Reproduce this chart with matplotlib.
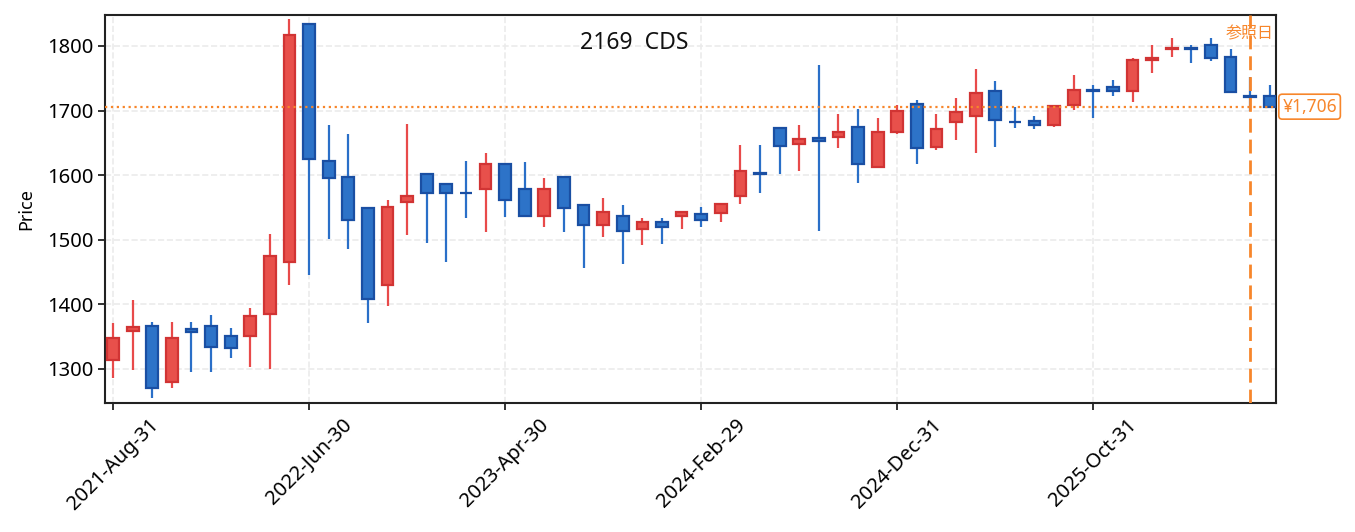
import numpy as np
import pandas as pd
import matplotlib
matplotlib.use("Agg")
import matplotlib.pyplot as plt

plt.rcParams['font.family'] = ['Noto Sans', 'Noto Sans CJK JP', 'DejaVu Sans']

# monthly candles, 2169 CDS
dates = pd.date_range('2021-08-31', periods=60, freq='ME')
opens = [1314, 1358, 1367, 1280, 1361, 1367, 1350, 1351, 1385, 1465,
         1834, 1622, 1597, 1549, 1429, 1558, 1602, 1586, 1573, 1578,
         1617, 1579, 1536, 1597, 1554, 1522, 1537, 1516, 1528, 1537,
         1540, 1542, 1567, 1603, 1673, 1648, 1657, 1659, 1674, 1612,
         1666, 1710, 1643, 1683, 1691, 1730, 1683, 1684, 1677, 1709,
         1732, 1737, 1731, 1779, 1796, 1797, 1801, 1783, 1723, 1722]
highs = [1371, 1406, 1373, 1373, 1373, 1383, 1363, 1394, 1508, 1842,
         1834, 1678, 1663, 1549, 1561, 1679, 1602, 1586, 1622, 1635,
         1617, 1620, 1596, 1597, 1554, 1564, 1553, 1533, 1533, 1543,
         1550, 1555, 1647, 1646, 1673, 1677, 1770, 1695, 1702, 1689,
         1709, 1717, 1694, 1719, 1765, 1746, 1705, 1692, 1709, 1755,
         1740, 1748, 1781, 1801, 1812, 1801, 1812, 1796, 1752, 1739]
lows = [1286, 1298, 1254, 1270, 1295, 1295, 1317, 1302, 1300, 1430,
        1445, 1501, 1485, 1371, 1398, 1507, 1495, 1466, 1533, 1512,
        1535, 1536, 1520, 1512, 1456, 1504, 1463, 1492, 1494, 1517,
        1520, 1528, 1555, 1572, 1601, 1606, 1514, 1642, 1587, 1612,
        1664, 1617, 1639, 1655, 1634, 1644, 1673, 1671, 1675, 1701,
        1688, 1722, 1713, 1758, 1783, 1773, 1777, 1728, 1700, 1705]
closes = [1348, 1365, 1270, 1348, 1357, 1333, 1332, 1381, 1475, 1817,
          1625, 1595, 1531, 1408, 1551, 1568, 1572, 1572, 1572, 1617,
          1561, 1536, 1579, 1549, 1522, 1543, 1513, 1528, 1520, 1543,
          1530, 1555, 1607, 1602, 1645, 1656, 1653, 1667, 1617, 1667,
          1700, 1642, 1672, 1697, 1727, 1685, 1682, 1677, 1707, 1732,
          1730, 1730, 1779, 1781, 1797, 1795, 1782, 1728, 1721, 1706]
ref_index = 58
last_price = 1706
title = '2169  CDS'

o = np.array(opens)
h = np.array(highs)
l = np.array(lows)
c = np.array(closes)
x = np.arange(len(dates))
up = c >= o

face = np.where(up, '#e8504b', '#2d73c8')
edge = np.where(up, '#d13434', '#1a4fa3')
wick = np.where(up, '#e84a4a', '#2a6fc8')

fig = plt.figure(figsize=(13.55, 5.32), dpi=100)
ax = fig.add_axes([0.0775, 0.2425, 0.8645, 0.7293])

ax.grid(True, color='#ebebeb', linestyle='--', linewidth=1.2, zorder=0)
ax.vlines(x, l, h, colors=wick, linewidth=1.6, zorder=2)
ax.bar(x, np.abs(c - o), bottom=np.minimum(o, c), width=0.6,
       color=face, edgecolor=edge, linewidth=1.6, zorder=3)

orange = '#f7862b'
ax.axhline(last_price, color=orange, linestyle=':', linewidth=1.6, zorder=4)
ax.axvline(ref_index, color=orange, linestyle=(0, (5, 2.5)), linewidth=2.0, zorder=4)
ax.text(ref_index, 0.951, '参照日', transform=ax.get_xaxis_transform(),
        ha='center', va='center', color=orange, fontsize=11.5,
        family=['Noto Sans CJK JP', 'DejaVu Sans'])
ax.text(1.005, last_price, f'¥{last_price:,}', transform=ax.get_yaxis_transform(),
        ha='left', va='center', color=orange, fontsize=12.5,
        bbox=dict(boxstyle='round,pad=0.2', fc='white', ec=orange, lw=1.2))

ax.text(0.452, 0.928, title, transform=ax.transAxes, ha='center', va='center',
        fontsize=16.5, color='#111111')

ax.set_xlim(-0.41, 59.34)
ax.set_ylim(1247, 1848)
ax.set_yticks([1300, 1400, 1500, 1600, 1700, 1800])
ticks = x[::10]
ax.set_xticks(ticks)
ax.set_xticklabels([dates[i].strftime('%Y-%b-%d') for i in ticks],
                   rotation=45, ha='center')
ax.set_ylabel('Price', fontsize=13, labelpad=8)
ax.tick_params(axis='both', labelsize=14.5, length=5, width=1.3, color='#222222')

for s in ax.spines.values():
    s.set_color('#222222')
    s.set_linewidth(1.5)

fig.savefig('out.png', dpi=100)
